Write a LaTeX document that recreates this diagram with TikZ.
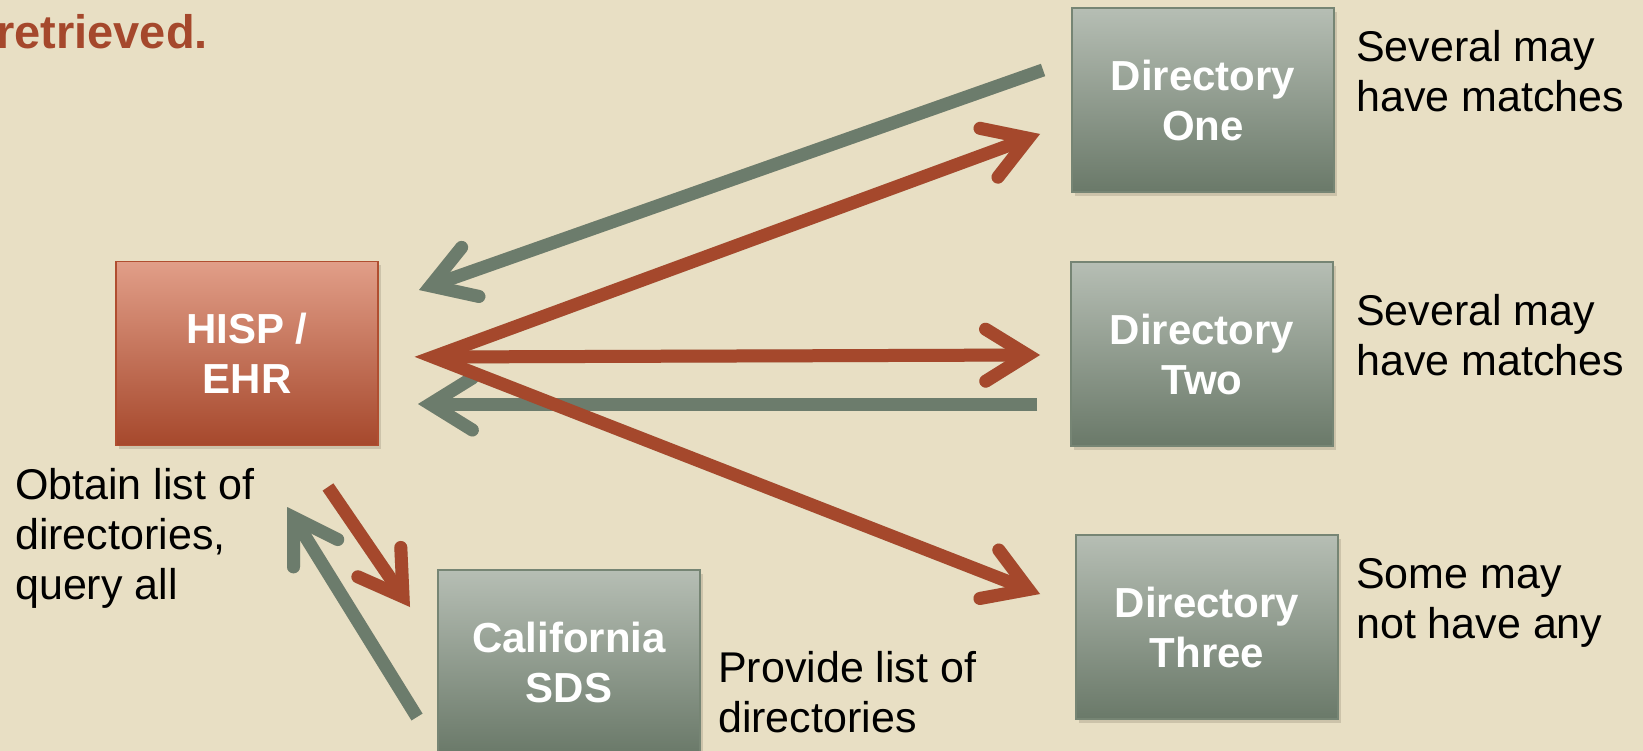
\documentclass[tikz,border=0pt]{standalone}
\usepackage{fontspec}
\setmainfont{Liberation Sans}
\usetikzlibrary{arrows.meta}
\definecolor{bg}{RGB}{232,223,196}
\definecolor{rust}{RGB}{165,72,44}
\definecolor{sage}{RGB}{108,124,108}
\definecolor{shadowc}{RGB}{204,195,170}
\definecolor{sagetop}{RGB}{182,190,180}
\definecolor{sagebot}{RGB}{106,121,105}
\definecolor{sageborder}{RGB}{118,133,116}
\definecolor{rusttop}{RGB}{225,158,136}
\definecolor{rustbot}{RGB}{166,72,44}
\definecolor{rustborder}{RGB}{176,78,48}
\begin{document}
\begin{tikzpicture}[x=1pt,y=-1pt,
  box/.style={minimum width=262pt, minimum height=184pt, inner sep=0pt, align=center,
    text=white, font=\fontsize{42}{50}\selectfont\bfseries, line width=1.5pt},
  graybox/.style={box, draw=sageborder, top color=sagetop, bottom color=sagebot},
  redbox/.style={box, draw=rustborder, top color=rusttop, bottom color=rustbot},
  boxshadow/.style={fill=shadowc, draw=none, minimum width=262pt, minimum height=184pt},
  note/.style={anchor=base west, align=left, inner sep=0pt, font=\fontsize{43}{50}\selectfont},
  tip/.tip={Straight Barb[length=42pt,width=52pt,line cap=round]},
  arr/.style={line width=13pt, -tip},
  redarr/.style={arr, draw=rust},
  grayarr/.style={arr, draw=sage},
  shadowarr/.style={arr, draw=shadowc, shift={(2,3)}},
]
\useasboundingbox (0,0) rectangle (1643,751);
\fill[bg] (0,0) rectangle (1643,751);

% endpoints
\coordinate (hub) at (433,357);
\coordinate (r1e) at (1040,134);
\coordinate (r2e) at (1040,355);
\coordinate (r3e) at (1040,594);
\coordinate (g1s) at (1043,70);
\coordinate (g1e) at (419,290);
\coordinate (g2s) at (1037,404);
\coordinate (g2e) at (418,404);
\coordinate (r4s) at (328,487);
\coordinate (r4e) at (410,607);
\coordinate (g3s) at (417,717);
\coordinate (g3e) at (287,507);

% box shadows
\foreach \p in {(250,357),(1206,104),(1205,358),(1210,631),(572,666)}
  \node[boxshadow] at \p {};

% arrow shadows
\draw[shadowarr, tip-tip] (r1e) -- (hub) -- (r3e);
\draw[shadowarr] (hub) -- (r2e);
\draw[shadowarr] (g1s) -- (g1e);
\draw[shadowarr] (g2s) -- (g2e);
\draw[shadowarr] (r4s) -- (r4e);
\draw[shadowarr] (g3s) -- (g3e);

% boxes
\node[redbox]  (hisp) at (247,353.5) {HISP /\\EHR};
\node[graybox] (d1)   at (1203,100)  {Directory\\One};
\node[graybox] (d2)   at (1202,354)  {Directory\\Two};
\node[graybox] (d3)   at (1207,627)  {Directory\\Three};
\node[graybox] (sds)  at (569,662)   {California\\SDS};

% arrows
\draw[grayarr] (g1s) -- (g1e);
\draw[grayarr] (g2s) -- (g2e);
\draw[redarr, tip-tip] (r1e) -- (hub) -- (r3e);
\draw[redarr] (hub) -- (r2e);
\draw[redarr] (r4s) -- (r4e);
\draw[grayarr] (g3s) -- (g3e);

% texts (base = baseline of the last line)
\node[inner sep=0pt, anchor=base west, text=rust, font=\fontsize{47}{54}\selectfont\bfseries] (ret) at (-4,49) {retrieved.};
\node[note] (n1) at (1356,112) {Several may\\have matches};
\node[note] (n2) at (1356,375) {Several may\\have matches};
\node[note] (n3) at (1356,638) {Some may\\not have any};
\node[note] (n4) at (15,599)   {Obtain list of\\directories,\\query all};
\node[note] (n5) at (718,732)  {Provide list of\\directories};
\end{tikzpicture}
\end{document}
